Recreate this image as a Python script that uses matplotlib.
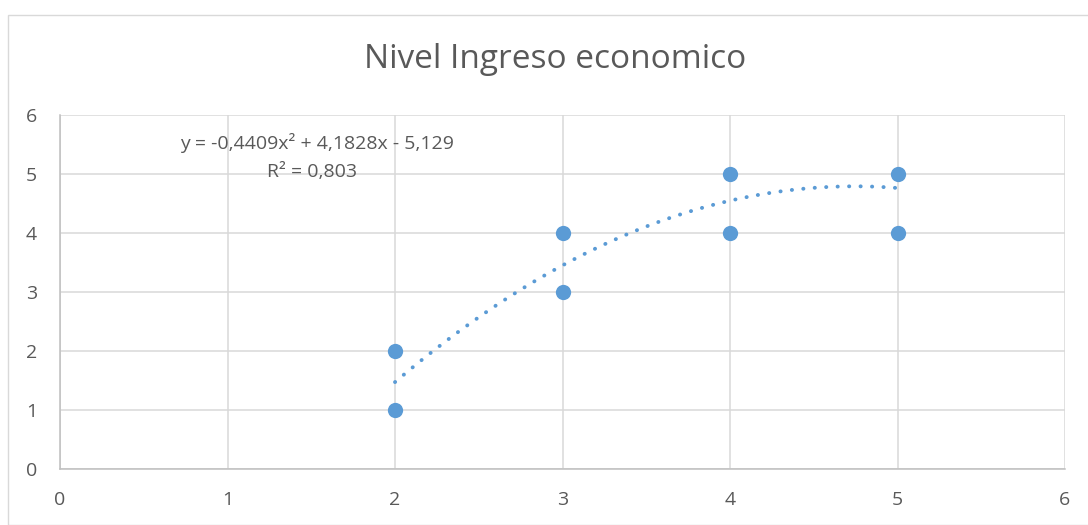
import numpy as np
import matplotlib
matplotlib.use("Agg")
import matplotlib.pyplot as plt
from matplotlib.patches import Rectangle

plt.rcParams['font.family'] = ['Open Sans', 'DejaVu Sans']

# Survey points
x_vals = [2, 2, 3, 3, 4, 4, 5, 5]
y_vals = [1, 2, 3, 4, 4, 5, 4, 5]

# Polynomial trendline (order 2)
coef_a = -0.4409
coef_b = 4.1828
coef_c = -5.129
r_squared = 0.803

title = "Nivel Ingreso economico"
x_ticks = [0, 1, 2, 3, 4, 5, 6]
y_ticks = [0, 1, 2, 3, 4, 5, 6]

blue = "#5B9BD5"
grid_c = "#D9D9D9"
text_c = "#595959"

fig = plt.figure(figsize=(10.88, 5.25), dpi=100)
W, H = 1088, 525

# chart frame
fig.patches.append(Rectangle((8 / W, 0), 1.2, (H - 15) / H, transform=fig.transFigure,
                             fill=False, edgecolor="#D9D9D9", linewidth=1.0))

ax = fig.add_axes([60 / W, 1 - 469 / H, (1065 - 60) / W, (469 - 115) / H])
ax.set_xlim(0, 6)
ax.set_ylim(0, 6)
ax.set_xticks(x_ticks)
ax.set_yticks(y_ticks)
ax.grid(True, color=grid_c, linewidth=1.1)
ax.set_axisbelow(True)
for side in ["top", "right"]:
    ax.spines[side].set_visible(False)
for side in ["left", "bottom"]:
    ax.spines[side].set_color("#BFBFBF")
    ax.spines[side].set_linewidth(1.1)
ax.tick_params(length=0, labelsize=14, labelcolor=text_c)
ax.tick_params(axis="y", pad=16.5)
ax.tick_params(axis="x", pad=16)

# trendline
xs = np.linspace(min(x_vals), max(x_vals), 200)
ys = coef_a * xs ** 2 + coef_b * xs + coef_c
ax.plot(xs, ys, color=blue, linewidth=2.8, linestyle=(0, (0.05, 2.9)),
        dash_capstyle="round", zorder=3)

ax.plot(x_vals, y_vals, "o", color=blue, markersize=11, markeredgewidth=0, zorder=4)

fig.text(317 / W, 1 - 143 / H,
         f"y = {coef_a:.4f}x² + {coef_b:.4f}x - {abs(coef_c):.3f}".replace(".", ","),
         ha="center", va="center", fontsize=14, color=text_c)
fig.text(312 / W, 1 - 172 / H, f"R² = {r_squared:.3f}".replace(".", ","),
         ha="center", va="center", fontsize=14, color=text_c)

fig.text(555 / W, 1 - 60 / H, title, ha="center", va="center", fontsize=24,
         color=text_c)

fig.savefig("out.png", dpi=100, facecolor="white")
